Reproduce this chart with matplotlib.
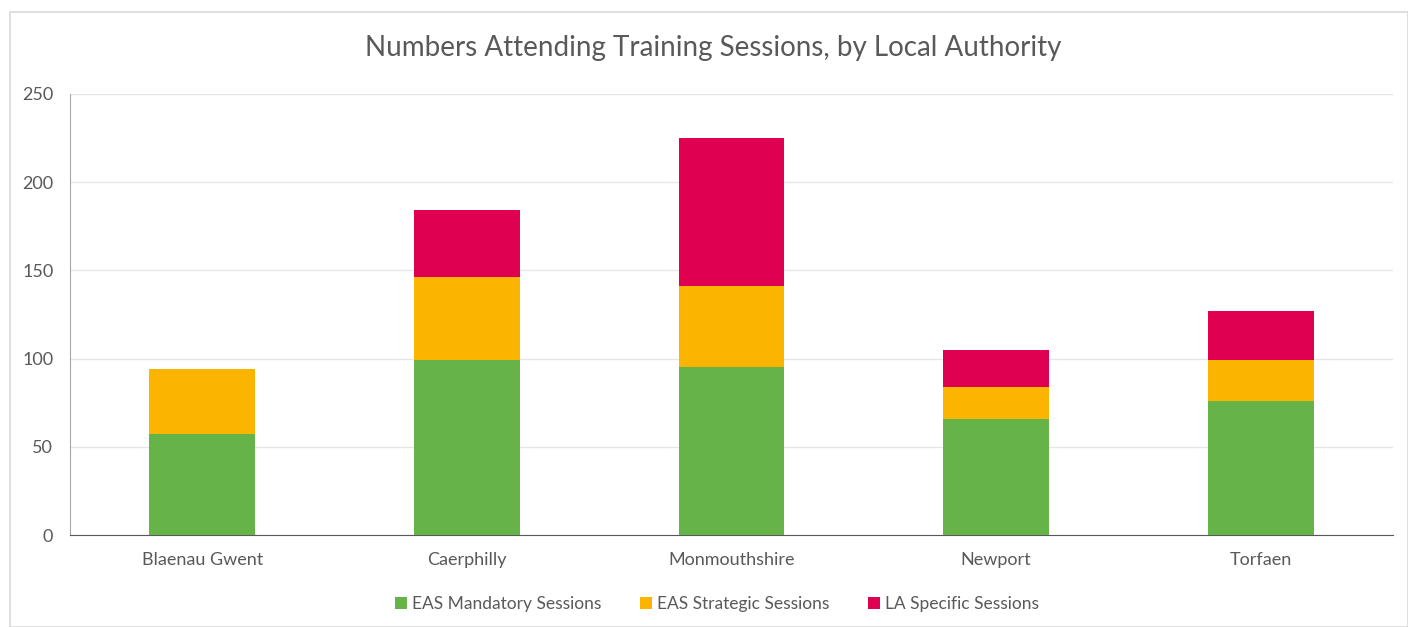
import matplotlib
matplotlib.use("Agg")
import matplotlib.pyplot as plt
from matplotlib.patches import Rectangle
import numpy as np

categories = ["Blaenau Gwent", "Caerphilly", "Monmouthshire", "Newport", "Torfaen"]
mandatory = [57, 99, 95, 66, 76]
strategic = [37, 47, 46, 18, 23]
la_specific = [0, 38, 84, 21, 28]
series_names = ["EAS Mandatory Sessions", "EAS Strategic Sessions", "LA Specific Sessions"]
colors = ["#66B347", "#FBB400", "#DF0052"]
yticks = [0, 50, 100, 150, 200, 250]

plt.rcParams['font.family'] = ['Lato', 'DejaVu Sans']
W, H = 1408, 627
fig = plt.figure(figsize=(W/100, H/100), dpi=100)
fig.patch.set_facecolor("white")
# chart border
fig.patches.append(Rectangle((10/W, 0), (W-10)/W, (H-12)/H, transform=fig.transFigure,
                             fill=False, edgecolor="#D9D9D9", linewidth=1.2))

ax = fig.add_axes([70/W, 1-535/H, (1393-70)/W, (535-94)/H])
x = np.arange(len(categories))
bottom = np.zeros(len(categories))
for vals, name, c in zip([mandatory, strategic, la_specific], series_names, colors):
    ax.bar(x, vals, 0.4, bottom=bottom, color=c, label=name, zorder=3)
    bottom += np.array(vals)

ax.set_xlim(-0.5, len(categories)-0.5)
ax.set_ylim(0, 250)
ax.set_yticks(yticks)
ax.set_xticks(x)
ax.set_xticklabels(categories)
ax.yaxis.grid(True, color="#E6E6E6", linewidth=1, zorder=0)
ax.set_axisbelow(True)
for s in ["top", "right"]:
    ax.spines[s].set_visible(False)
ax.spines["left"].set_color("#A6A6A6")
ax.spines["bottom"].set_color("#595959")
ax.tick_params(axis="both", length=0, colors="#595959", labelsize=13)
ax.tick_params(axis="x", pad=12)
ax.tick_params(axis="y", pad=12)

fig.text(713/W, 1-48/H, "Numbers Attending Training Sessions, by Local Authority",
         ha="center", va="center", fontsize=20, color="#595959")

leg = fig.legend(loc="center", bbox_to_anchor=(717/W, 1-604/H), ncol=3, frameon=False,
                 fontsize=12.5, handlelength=0.7, handleheight=0.7, columnspacing=2.2,
                 handletextpad=0.3)
for t in leg.get_texts():
    t.set_color("#595959")

fig.savefig("out.png", dpi=100)
